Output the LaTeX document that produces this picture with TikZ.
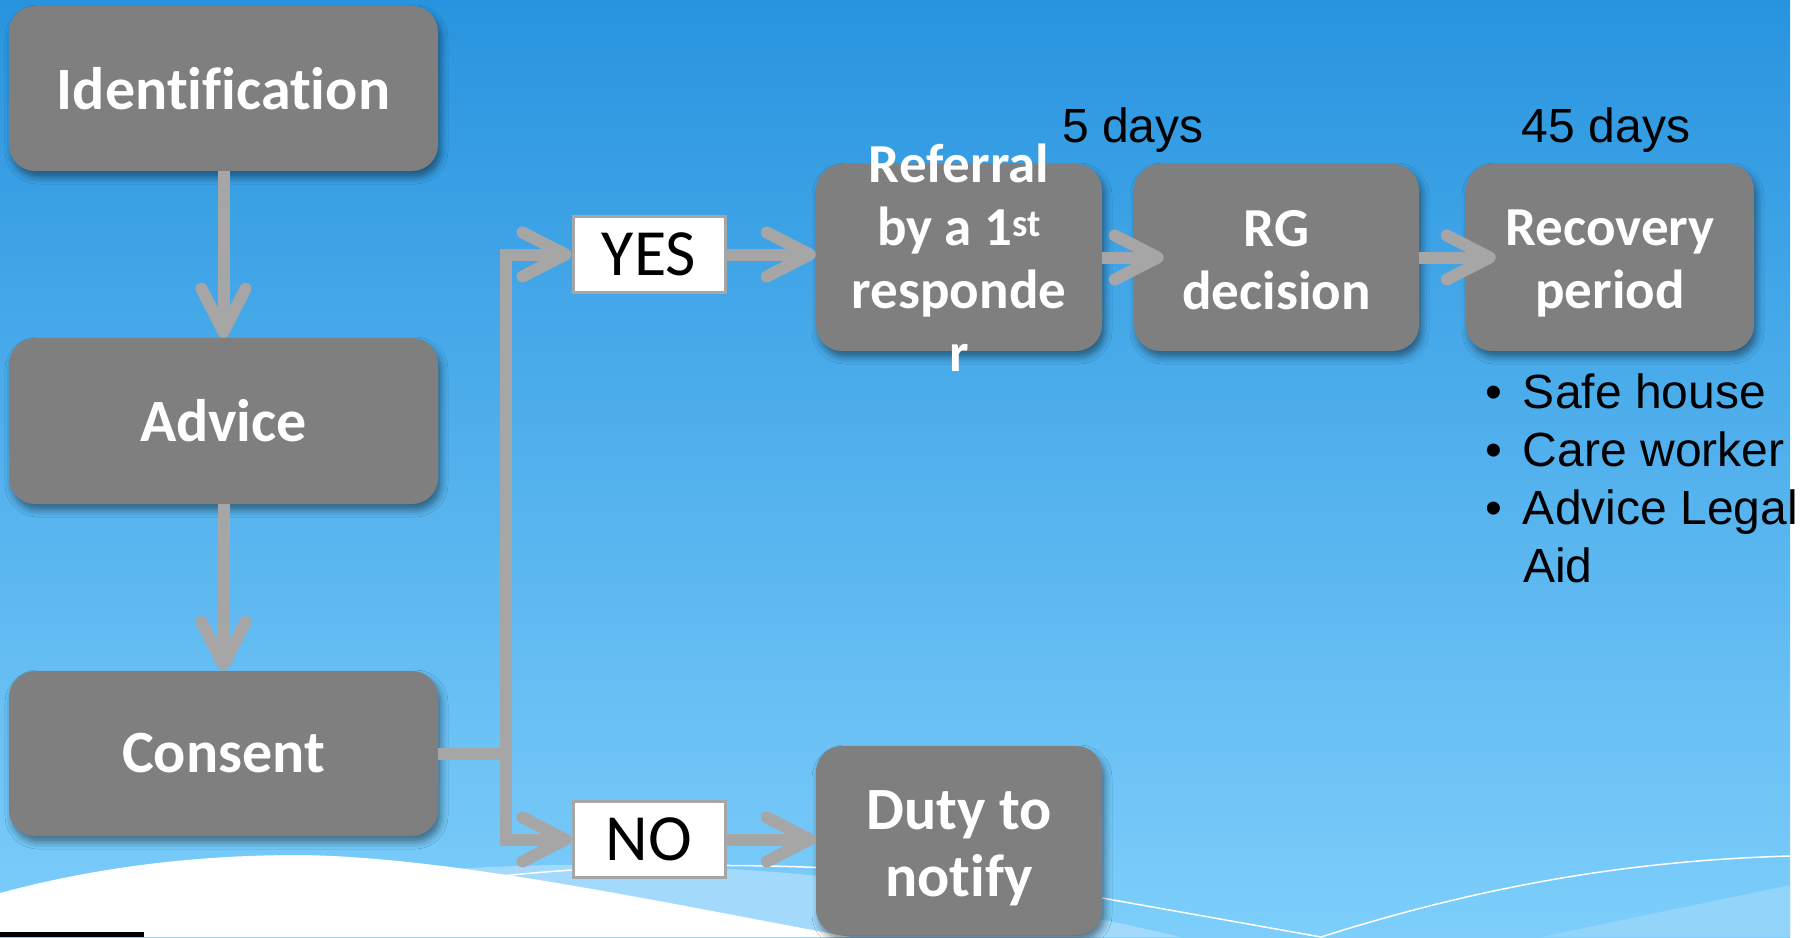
\documentclass[tikz,border=0pt]{standalone}
\usepackage{fontspec}
\setmainfont{Liberation Sans}
\newfontfamily\carlito[Ligatures=NoCommon]{Carlito}
\usetikzlibrary{arrows.meta,shadows.blur}
\definecolor{boxgray}{HTML}{7F7F7F}
\definecolor{arrowgray}{HTML}{A6A6A6}
\definecolor{bgtop}{HTML}{2894DF}
\definecolor{bgbot}{HTML}{7DCEFB}
\definecolor{bandL}{HTML}{A3DAFC}
\definecolor{bandR}{HTML}{93D4FB}
\newcommand\lblL{\carlito\bfseries\fontsize{60}{67}\selectfont}
\newcommand\lblR{\carlito\bfseries\fontsize{55}{63}\selectfont}
\newcommand\tstrut[1]{\rule{0pt}{#1}}
\begin{document}
\begin{tikzpicture}[x=1pt,y=-1pt,
  box/.style={fill=boxgray, rounded corners=26pt, inner sep=0pt, align=center, text=white,
    blur shadow={shadow xshift=3pt, shadow yshift=-6pt, shadow blur radius=7pt, shadow opacity=45}},
  boxtext/.style={text=white, align=center, inner sep=0pt},
  choice/.style={fill=white, draw=arrowgray, line width=3pt, minimum width=152pt, minimum height=76pt,
    inner sep=0pt, font=\carlito\fontsize{66}{72}\selectfont},
  conn/.style={draw=arrowgray, line width=12pt},
  arr/.style={conn, -{Straight Barb[round, length=43pt, width=44pt]}},
  days/.style={font=\fontsize{48}{58}\selectfont, inner sep=0pt},
  wline/.style={draw=white, line width=1.5pt}]
\useasboundingbox (0,0) rectangle (1809,937);
% background
\fill[white] (0,0) rectangle (1809,937);
\shade[top color=bgtop, bottom color=bgbot] (0,0) rectangle (1790,937);
\fill[bandL] (440,870) .. controls (650,855) and (900,870) .. (1180,937) -- (440,937) -- cycle;
\fill[bandR] (1541,937) -- (1790,885) -- (1790,937) -- cycle;
\fill[white] (0,893) .. controls (100,866) and (200,855) .. (300,855) .. controls (450,857) and (650,900) .. (850,937) -- (0,937) -- cycle;
\draw[wline] (485,878) .. controls (650,858) and (900,860) .. (1102,898) -- (1321,937);
\draw[wline] (1321,937) .. controls (1500,880) and (1650,860) .. (1790,856);
\fill[black] (0,932) rectangle (144,937);
% boxes
\node[box, minimum width=429pt, minimum height=165pt, font=\lblL] (ident) at (223.5,88.5) {Identification};
\node[box, minimum width=429pt, minimum height=166pt, font=\lblL] (advice) at (223.5,421) {Advice};
\node[box, minimum width=429pt, minimum height=165pt, font=\lblL] (consent) at (223.5,753.5) {Consent};
\node[box, minimum width=286pt, minimum height=187pt] (ref) at (959,257.5) {};
\node[boxtext, font=\lblR] (reftxt) at (ref.center) {Referral\\by a 1\textsuperscript{st}\\responde\\r};
\node[box, minimum width=285pt, minimum height=187pt, font=\lblR] (rg) at (1276.5,257.5) {\tstrut{60pt}RG\\decision\strut};
\node[box, minimum width=288pt, minimum height=187pt, font=\lblR] (rec) at (1610,257.5) {\tstrut{58pt}Recovery\\period\strut};
\node[box, minimum width=286pt, minimum height=189pt, font=\lblL] (duty) at (959,840.5) {\tstrut{66pt}Duty to\\notify\strut};
\node[choice] (yes) at (649,254.5) {YES};
\node[choice] (no) at (649,839.5) {NO};
% texts
\node[days] (d5) at (1133,130.5) {5 days};
\node[days] (d45) at (1606,130.5) {45 days};
\node[days, anchor=north west] (list) at (1485,368) {\begin{tabular}{@{}l@{\hspace{21pt}}l@{}}
\textbullet & Safe house\\
\textbullet & Care worker\\
\textbullet & Advice Legal\\
 & Aid
\end{tabular}};
% connectors
\coordinate (junc) at (506,753.5);
\draw[arr] (ident) -- (advice);
\draw[arr] (advice) -- (consent);
\draw[conn] (consent.east) -- (junc);
\draw[arr] (junc) |- (yes.west);
\draw[arr] (junc) |- (no.west);
\draw[arr] (yes.east) -- (yes.east -| ref.west);
\draw[arr] (no.east) -- (no.east -| duty.west);
\draw[arr] (ref.east) -- ([xshift=30pt]rg.west);
\draw[arr] (rg.east) -- ([xshift=30pt]rec.west);
\end{tikzpicture}
\end{document}
